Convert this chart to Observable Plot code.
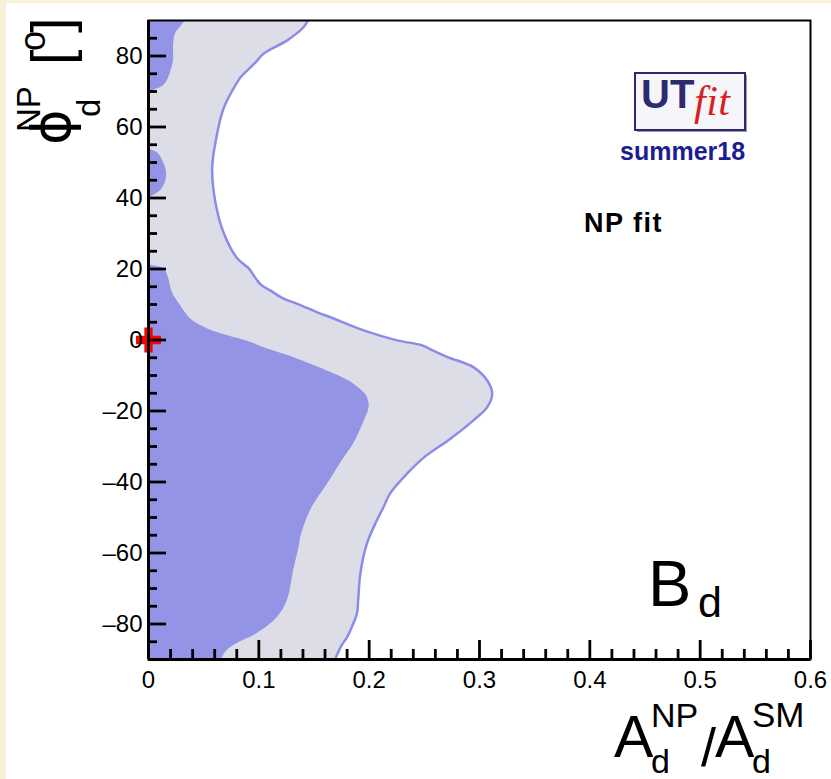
<!DOCTYPE html>
<html>
<head>
<meta charset="utf-8">
<script src="https://cdn.jsdelivr.net/npm/d3@7"></script>
<script src="https://cdn.jsdelivr.net/npm/@observablehq/plot@0.6"></script>
<style>
  html, body { margin: 0; padding: 0; background: #f9f0d8; width: 831px; height: 779px; overflow: hidden; }
  #panel { position: absolute; left: 6px; top: 3px; right: 0; bottom: 0; background: #ffffff; }
  #chart { position: absolute; left: 0; top: 0; }
</style>
</head>
<body>
<div id="panel"></div>
<div id="chart"></div>
<script>
// ---- data: [phi_d^NP (deg), A_d^NP/A_d^SM] boundary points ----
const region95 = [
  [-90, 0.169], [-89.3, 0.170], [-86, 0.175], [-83.7, 0.180], [-79.6, 0.186], [-77, 0.189],
  [-73.4, 0.190], [-65.8, 0.192], [-57.3, 0.198], [-50.8, 0.207], [-47.1, 0.213], [-43.2, 0.219],
  [-37.6, 0.2345], [-33, 0.250], [-27.8, 0.2737], [-22.5, 0.295], [-18.9, 0.307], [-15.1, 0.3115],
  [-11.4, 0.307], [-7.7, 0.2947], [-4.8, 0.271], [-3.0, 0.258], [-1.5, 0.248], [-0.1, 0.2254],
  [2.7, 0.195], [6.4, 0.165], [7.8, 0.153], [10.2, 0.135], [11.7, 0.122], [13.9, 0.1106],
  [15.4, 0.1025], [17.0, 0.098], [20.1, 0.091], [23.0, 0.0804], [30.3, 0.068], [38.7, 0.0607],
  [48.3, 0.0577], [55.7, 0.0607], [65.2, 0.068], [72.6, 0.0804], [74.0, 0.0834], [78.2, 0.097],
  [80.7, 0.1045], [84.4, 0.1257], [88.1, 0.1405], [90, 0.1445]
];
const region68Main = [
  [-90, 0.066], [-87.5, 0.071], [-85.5, 0.0804], [-82.7, 0.0985], [-78.1, 0.117], [-73.4, 0.1258],
  [-64.9, 0.1316], [-58.4, 0.1365], [-55.6, 0.138], [-48, 0.1469], [-40, 0.1635], [-34.8, 0.174],
  [-32, 0.180], [-29.2, 0.186], [-23.5, 0.1947], [-18.9, 0.200], [-16.1, 0.1983], [-14.7, 0.195],
  [-12.3, 0.1856], [-10.8, 0.1768], [-8.2, 0.158], [-5, 0.132], [-2.2, 0.105], [-0.6, 0.0925],
  [1.3, 0.0713], [3.2, 0.0532], [6.0, 0.038], [9.7, 0.029], [13.5, 0.0214], [17.2, 0.0184],
  [20.05, 0.0139], [21.0, 0.003], [21.3, 0]
];
const region68Mid = [
  [40.2, 0], [40.7, 0.0045], [42.1, 0.011], [44.5, 0.0154], [47.3, 0.0163], [50.1, 0.0136],
  [52.5, 0.009], [53.5, 0.003], [53.9, 0]
];
const region68Top = [
  [69.9, 0], [70.5, 0.006], [71.5, 0.013], [73, 0.017], [75.4, 0.020], [78.7, 0.0227],
  [83, 0.0227], [86.3, 0.0245], [88.1, 0.029], [90, 0.0335]
];
const smPoint = [[0, 0]];
const xMajor = [0, 0.1, 0.2, 0.3, 0.4, 0.5, 0.6];
const xMinor = [0.02, 0.04, 0.06, 0.08, 0.12, 0.14, 0.16, 0.18, 0.22, 0.24, 0.26, 0.28,
  0.32, 0.34, 0.36, 0.38, 0.42, 0.44, 0.46, 0.48, 0.52, 0.54, 0.56, 0.58];
const yMajor = [-80, -60, -40, -20, 0, 20, 40, 60, 80];
const yMinor = [-85, -75, -70, -65, -55, -50, -45, -35, -30, -25, -15, -10, -5,
  5, 10, 15, 25, 30, 35, 45, 50, 55, 65, 70, 75, 85];

const toRows = arr => arr.map(([phi, a]) => ({phi, a}));
const W = 831, H = 779, mL = 148, mR = 21, mT = 20, mB = 120;
const fw = W - mL - mR, fh = H - mT - mB;

const fill95 = "#dddde8", fill68 = "#9494e6", edge95 = "#8c8ce8";
const curve = "catmull-rom";

const chart = Plot.plot({
  width: W, height: H,
  marginLeft: mL, marginRight: mR, marginTop: mT, marginBottom: mB,
  x: {domain: [0, 0.6]},
  y: {domain: [-90, 90]},
  style: {background: "transparent", fontFamily: "'Liberation Sans', Arial, Helvetica, sans-serif", fontSize: "24px", color: "#000", overflow: "visible"},
  marks: [
    Plot.areaX(toRows(region95), {y: "phi", x: "a", fill: fill95, curve, clip: "frame"}),
    Plot.lineX(toRows(region95), {y: "phi", x: "a", stroke: edge95, strokeWidth: 2.5, curve, clip: "frame"}),
    Plot.areaX(toRows(region68Main), {y: "phi", x: "a", fill: fill68, curve, clip: "frame"}),
    Plot.areaX(toRows(region68Mid), {y: "phi", x: "a", fill: fill68, curve, clip: "frame"}),
    Plot.areaX(toRows(region68Top), {y: "phi", x: "a", fill: fill68, curve, clip: "frame"}),
    Plot.dot(toRows(smPoint), {x: "a", y: "phi", symbol: "cross", r: 10.5, fill: "#ff0000", stroke: "none"}),
    // inward ROOT-style ticks
    Plot.tickY(yMajor, {y: d => d, insetRight: fw - 18, stroke: "#000", strokeWidth: 2.8}),
    Plot.tickY(yMinor, {y: d => d, insetRight: fw - 9, stroke: "#000", strokeWidth: 2.8}),
    Plot.tickX(xMajor, {x: d => d, insetTop: fh - 19, stroke: "#000", strokeWidth: 2.8}),
    Plot.tickX(xMinor, {x: d => d, insetTop: fh - 10, stroke: "#000", strokeWidth: 2.8}),
    Plot.frame({stroke: "#000", strokeWidth: 2}),
    Plot.ruleX([0], {stroke: "#000", strokeWidth: 3}),
    Plot.ruleY([-90], {stroke: "#000", strokeWidth: 3}),
    Plot.axisX(xMajor, {tickSize: 0, tickPadding: 11, label: null, fontSize: 24,
      tickFormat: d => d === 0 ? "0" : d3.format(".1f")(d)}),
    Plot.axisY(yMajor, {tickSize: 0, tickPadding: 6, label: null, fontSize: 24,
      tickFormat: d => d < 0 ? "\u2013" + (-d) : String(d)})
  ]
});
document.getElementById("chart").appendChild(chart);

const svg = d3.select(chart);
const font = "'Liberation Sans', Arial, Helvetica, sans-serif";
function put(g, str, x, y, size, extra = {}) {
  const t = g.append("text").attr("x", x).attr("y", y).attr("font-size", size)
    .attr("text-anchor", "start")
    .attr("font-family", extra.family || font).attr("fill", extra.fill || "#000").text(str);
  if (extra.weight) t.attr("font-weight", extra.weight);
  if (extra.style) t.attr("font-style", extra.style);
  if (extra.ls) t.attr("letter-spacing", extra.ls);
  return t;
}
const ann = svg.append("g").attr("text-anchor", "start");

// y-axis title (rotated)
const yt = ann.append("g").attr("transform", "rotate(-90)");
put(yt, "\u03d5", -145, 70, 54, {family: "'DejaVu Sans', sans-serif"});
put(yt, "d", -117, 100, 33);
put(yt, "NP", -132, 40, 33);
put(yt, "[", -65, 70, 56);
put(yt, "o", -51, 45, 36);
put(yt, "]", -33, 70, 56);

// x-axis title
put(ann, "A", 614, 757, 59);
put(ann, "NP", 651, 727, 34);
put(ann, "d", 651, 773, 34);
put(ann, "/", 701, 766, 54);
put(ann, "A", 715, 757, 59);
put(ann, "SM", 752, 727, 35);
put(ann, "d", 752, 773, 34);

// B_d label
put(ann, "B", 648, 606, 65);
put(ann, "d", 698, 617, 43);

// NP fit
put(ann, "NP fit", 584, 232, 27, {weight: "bold", ls: 1.5});

// UTfit logo
ann.append("rect").attr("x", 637).attr("y", 75).attr("width", 110).attr("height", 57).attr("fill", "#9a9aa8");
ann.append("rect").attr("x", 635).attr("y", 73).attr("width", 110).attr("height", 57)
  .attr("fill", "#f6f6fa").attr("stroke", "#2a2a70").attr("stroke-width", 2);
put(ann, "UT", 641, 108, 40, {weight: "bold", fill: "#2b2b6e"});
put(ann, "fit", 694, 115, 42, {style: "italic", fill: "#d91e1e", family: "'Liberation Serif', serif", ls: 0.5});
put(ann, "summer18", 620, 160, 25, {weight: "bold", fill: "#1c1c96"});
</script>
</body>
</html>
